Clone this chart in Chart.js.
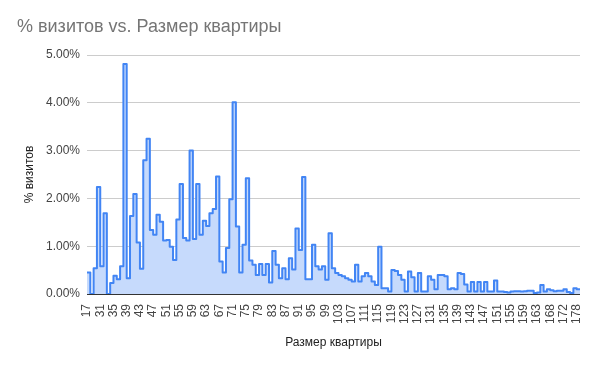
<!DOCTYPE html>
<html><head><meta charset="utf-8">
<script src="https://cdn.jsdelivr.net/npm/chart.js@4"></script>
<style>html,body{margin:0;padding:0;background:#fff}#wrap{width:596px;height:365px;position:relative}</style>
</head><body><div id="wrap"><canvas id="c" width="596" height="365"></canvas></div>
<script>
const chartTitle = '% визитов vs. Размер квартиры';
const xTitle = 'Размер квартиры';
const yTitle = '% визитов';

// Apartment sizes (categories)
const sizes = [17, 22, 27, 30,
  31,32,33,34,35,36,37,38,39,40,41,42,43,44,45,46,47,48,49,50,
  51,52,53,54,55,56,57,58,59,60,61,62,63,64,65,66,67,68,69,70,
  71,72,73,74,75,76,77,78,79,80,81,82,83,84,85,86,87,88,89,90,
  91,92,93,94,95,96,97,98,99,100,101,102,103,104,105,106,107,108,109,110,
  111,112,113,114,115,116,117,118,119,120,121,122,123,124,125,126,127,128,129,130,
  131,132,133,134,135,136,137,138,139,140,141,142,143,144,145,146,147,148,149,150,
  151,152,153,154,155,156,157,158,159,160,161,162,163,
  165,166,167,168,169,170,171,172,174,175,176,178];

// % of visits per size
const visits = [0.45, 0, 0.54, 2.24,
  0.58,1.69,0,0.23,0.38,0.31,0.58,4.81,0.33,1.63,2.09,1.08,0.53,2.80,3.25,1.34,
  1.24,1.66,1.51,1.12,1.13,0.99,0.71,1.56,2.30,1.17,1.12,3.00,1.15,2.30,1.24,1.53,
  1.42,1.69,1.78,2.46,0.68,0.45,0.96,1.98,4.01,1.41,0.45,1.03,2.42,0.70,0.61,0.40,
  0.63,0.40,0.63,0.24,0.90,0.61,0.33,0.54,0.31,0.75,0.51,1.37,0.92,2.45,0.31,0.31,
  1.03,0.58,0.51,0.58,0.30,1.27,0.54,0.44,0.40,0.37,0.33,0.30,0.26,0.61,0.26,0.37,
  0.44,0.37,0.26,0.19,0.99,0.12,0.12,0.05,0.50,0.48,0.40,0.30,0.05,0.47,0.35,0.05,
  0.44,0.05,0.05,0.37,0.30,0.10,0.40,0.40,0.37,0.10,0.12,0.10,0.44,0.42,0.20,0.05,
  0.25,0.05,0.25,0.05,0.25,0.05,0.05,0.28,0.05,0.05,0.04,0.03,0.05,0.06,0.06,0.05,
  0.06,0.07,0.07,0.02,0.03,0.19,0.05,0.10,0.08,0.06,0.07,0.07,0.10,0.04,0.02,0.12,0.10];

const yTicks = [0, 1, 2, 3, 4, 5];
const labelEvery = 4;

const FONT = "Arial, 'Liberation Sans', sans-serif";

const points = visits.map((v, i) => ({x: i, y: v}));
points.push({x: visits.length, y: visits[visits.length - 1]});

const textPlugin = {
  id: 'texts',
  afterDraw(chart) {
    const ctx = chart.ctx;
    const a = chart.chartArea;
    ctx.save();
    ctx.fillStyle = '#757575';
    ctx.font = '18px ' + FONT;
    ctx.textAlign = 'left';
    ctx.textBaseline = 'alphabetic';
    ctx.fillText(chartTitle, 17, 32);
    ctx.fillStyle = '#222';
    ctx.font = '12px ' + FONT;
    ctx.textAlign = 'center';
    ctx.textBaseline = 'middle';
    ctx.fillText(xTitle, (a.left + a.right) / 2, 343);
    ctx.translate(30, (a.top + a.bottom) / 2);
    ctx.rotate(-Math.PI / 2);
    ctx.fillText(yTitle, 0, 0);
    ctx.restore();
  }
};

new Chart(document.getElementById('c'), {
  type: 'line',
  data: {
    datasets: [{
      data: points,
      stepped: true,
      fill: 'origin',
      backgroundColor: '#c6dafc',
      borderColor: '#4285f4',
      borderWidth: 2,
      borderJoinStyle: 'round',
      borderCapStyle: 'round',
      pointRadius: 0,
      pointHoverRadius: 0
    }]
  },
  options: {
    responsive: false,
    devicePixelRatio: 1,
    animation: false,
    layout: {padding: {top: 55, right: 16, left: 0, bottom: 0}},
    plugins: {legend: {display: false}, tooltip: {enabled: false}, title: {display: false}},
    scales: {
      x: {
        type: 'linear',
        min: 0,
        max: visits.length,
        afterBuildTicks: s => {
          s.ticks = sizes.map((v, i) => i).filter(i => i % labelEvery === 0).map(i => ({value: i}));
        },
        afterFit: s => { s.height = 71; },
        ticks: {
          autoSkip: false, maxRotation: 90, minRotation: 90, padding: 2,
          color: '#444', font: {size: 12, family: FONT},
          callback: v => sizes[v]
        },
        grid: {display: false},
        border: {display: false}
      },
      y: {
        min: 0,
        max: 5,
        afterBuildTicks: s => { s.ticks = yTicks.map(v => ({value: v})); },
        afterFit: s => { s.width = 87; },
        ticks: {
          padding: 7, color: '#444', font: {size: 12, family: FONT},
          callback: v => v.toFixed(2) + '%'
        },
        grid: {
          drawTicks: false,
          color: c => (c.tick && c.tick.value === 0) ? '#333' : '#cccccc',
          lineWidth: 1
        },
        border: {display: false}
      }
    }
  },
  plugins: [textPlugin]
});
</script>
</body></html>
